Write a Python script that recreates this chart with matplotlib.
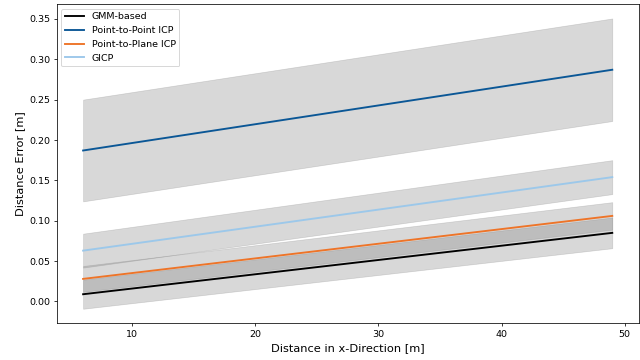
import matplotlib
matplotlib.use("Agg")
import matplotlib.pyplot as plt
import numpy as np

# Distance in x-direction [m] (start / end of the fitted lines)
x = np.array([6, 49])

methods = ["GMM-based", "Point-to-Point ICP", "Point-to-Plane ICP", "GICP"]
mean_gmm = [0.009, 0.085]
mean_p2p = [0.187, 0.287]
mean_p2pl = [0.028, 0.106]
mean_gicp = [0.063, 0.154]

std_gmm = [0.018, 0.019]
std_p2p = [0.063, 0.0635]
std_p2pl = [0.016, 0.017]
std_gicp = [0.021, 0.021]

colors = ["black", "#0b5796", "#ee7428", "#9cc8ea"]

DPI = 68
fig, ax = plt.subplots(figsize=(640 / DPI, 360 / DPI), dpi=DPI)
fig.subplots_adjust(left=0.0885, right=0.998, bottom=0.102, top=0.989)

means = [mean_gmm, mean_p2p, mean_p2pl, mean_gicp]
stds = [std_gmm, std_p2p, std_p2pl, std_gicp]

for name, m, s, c in zip(methods, means, stds, colors):
    m = np.array(m)
    s = np.array(s)
    ax.plot(x, m, color=c, lw=2, label=name)
    ax.fill_between(x, m - s, m + s, color="gray", alpha=0.3, lw=0.7)

ax.set_xlabel("Distance in x-Direction [m]", fontsize=12)
ax.set_ylabel("Distance Error [m]", fontsize=12)
ax.tick_params(labelsize=10)
ax.legend(loc="upper left", fontsize=10)

plt.savefig("out.png", dpi=DPI)
